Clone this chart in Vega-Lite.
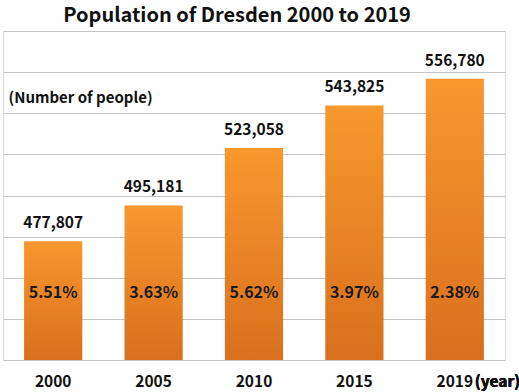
{
  "$schema": "https://vega.github.io/schema/vega-lite/v6.json",
  "width": 502,
  "height": 329,
  "autosize": {"type": "none"},
  "padding": {"left": 3, "top": 31, "right": 14, "bottom": 32},
  "background": "white",
  "title": {
    "text": "Population of Dresden 2000 to 2019",
    "font": "Noto Sans CJK KR",
    "fontSize": 20,
    "fontWeight": "bold",
    "color": "#111111",
    "anchor": "middle",
    "frame": "group",
    "dx": -17,
    "baseline": "middle",
    "offset": -5
  },
  "data": {
    "values": [
      {"year": "2000", "population": 477807, "label": "477,807", "growth": "5.51%", "xlabel": "2000"},
      {"year": "2005", "population": 495181, "label": "495,181", "growth": "3.63%", "xlabel": "2005"},
      {"year": "2010", "population": 523058, "label": "523,058", "growth": "5.62%", "xlabel": "2010"},
      {"year": "2015", "population": 543825, "label": "543,825", "growth": "3.97%", "xlabel": "2015"},
      {"year": "2019", "population": 556780, "label": "556,780", "growth": "2.38%", "xlabel": "2019"}
    ]
  },
  "encoding": {
    "x": {
      "field": "year",
      "type": "nominal",
      "sort": null,
      "scale": {"paddingInner": 0.42, "paddingOuter": 0.21},
      "axis": null
    }
  },
  "layer": [
    {
      "mark": {
        "type": "bar",
        "color": {
          "gradient": "linear",
          "x1": 0, "y1": 0, "x2": 0, "y2": 1,
          "stops": [
            {"offset": 0, "color": "#F8982D"},
            {"offset": 1, "color": "#D8701E"}
          ]
        }
      },
      "encoding": {
        "y": {
          "field": "population",
          "type": "quantitative",
          "scale": {"domain": [420000, 580000], "zero": false, "nice": false},
          "axis": {
            "title": "(Number of people)",
            "titleAngle": 0,
            "titleAlign": "left",
            "titleBaseline": "middle",
            "titleX": 5,
            "titleY": 66,
            "titleFont": "Noto Sans CJK KR",
            "titleFontSize": 15,
            "titleFontWeight": "bold",
            "titleColor": "#111111",
            "labels": false,
            "ticks": false,
            "domain": false,
            "grid": true,
            "gridColor": "#C4C4C4",
            "gridWidth": 1,
            "values": [420000, 440000, 460000, 480000, 500000, 520000, 540000, 560000, 580000]
          }
        },
        "y2": {"datum": 420000}
      }
    },
    {
      "mark": {
        "type": "text",
        "font": "Noto Sans CJK KR",
        "fontSize": 15.5,
        "fontWeight": "bold",
        "color": "#111111",
        "baseline": "alphabetic",
        "dy": -13
      },
      "encoding": {
        "y": {"field": "population", "type": "quantitative"},
        "text": {"field": "label"}
      }
    },
    {
      "mark": {
        "type": "text",
        "font": "Noto Sans CJK KR",
        "fontSize": 16,
        "fontWeight": "bold",
        "color": "#1a1a1a",
        "baseline": "middle"
      },
      "encoding": {
        "y": {"datum": 452600, "type": "quantitative"},
        "text": {"field": "growth"}
      }
    },
    {
      "mark": {
        "type": "text",
        "font": "Noto Sans CJK KR",
        "fontSize": 15.5,
        "fontWeight": "bold",
        "color": "#111111",
        "baseline": "middle",
        "dy": 22
      },
      "encoding": {
        "y": {"datum": 420000, "type": "quantitative"},
        "text": {"field": "xlabel"}
      }
    },
    {
      "mark": {
        "type": "text",
        "font": "Noto Sans CJK KR",
        "fontSize": 15.5,
        "fontWeight": "bold",
        "color": "#111111",
        "baseline": "middle",
        "align": "left",
        "dx": 20,
        "dy": 22,
        "text": "(year)"
      },
      "encoding": {
        "x": {"datum": "2019"},
        "y": {"datum": 420000, "type": "quantitative"}
      }
    }
  ]
}
